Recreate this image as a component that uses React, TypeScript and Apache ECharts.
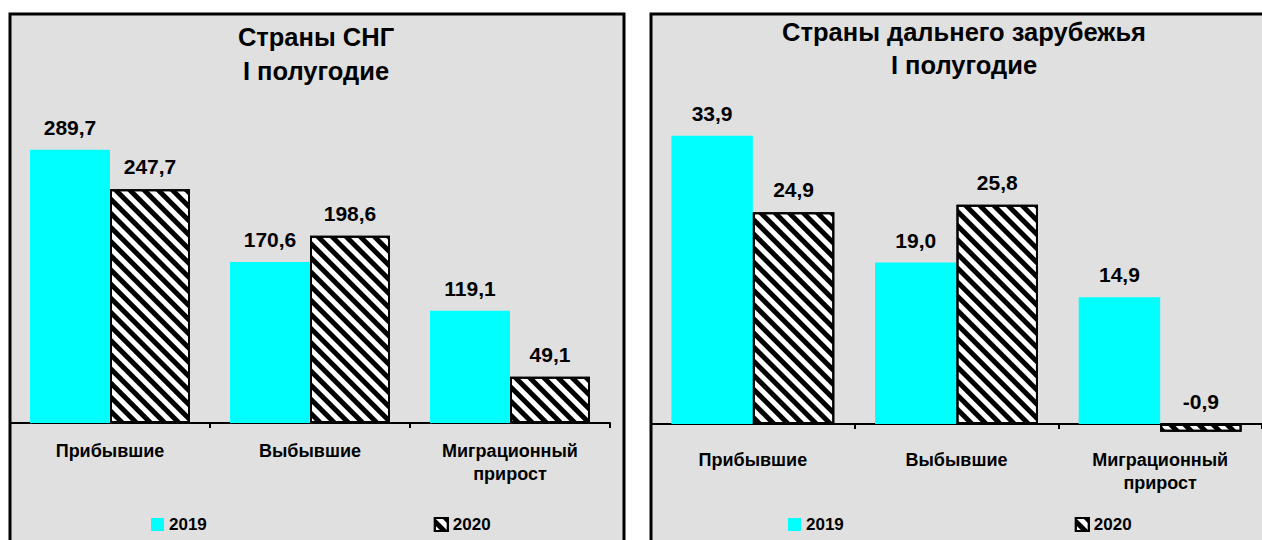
import React, { useEffect, useRef } from "react";
import * as echarts from "echarts";

const categories = ["Прибывшие", "Выбывшие", "Миграционный\nприрост"];
const cisTitle = "Страны СНГ\nI полугодие";
const farTitle = "Страны дальнего зарубежья\nI полугодие";
const cis2019 = [289.7, 170.6, 119.1];
const cis2020 = [247.7, 198.6, 49.1];
const far2019 = [33.9, 19.0, 14.9];
const far2020 = [24.9, 25.8, -0.9];
const seriesNames = ["2019", "2020"];

const FONT = "Arial, 'Liberation Sans', sans-serif";
const fmt = (p: any) => Number(p.value).toFixed(1).replace(".", ",");

const hatch = {
  symbol: "rect",
  symbolSize: 1,
  dashArrayX: [1, 0],
  dashArrayY: [5, 5],
  rotation: Math.PI / 4,
  color: "#000000",
  backgroundColor: "#ffffff",
};

const labelStyle = {
  show: true,
  position: "top",
  distance: 12,
  formatter: fmt,
  color: "#000",
  fontFamily: FONT,
  fontWeight: "bold",
  fontSize: 21,
};

function makeSeries(name: string, data: number[], idx: number, hatched: boolean) {
  return {
    name,
    type: "bar",
    xAxisIndex: idx,
    yAxisIndex: idx,
    data,
    barGap: "0%",
    barCategoryGap: "20%",
    itemStyle: hatched
      ? { color: "#ffffff", borderColor: "#000", borderWidth: 2, decal: hatch }
      : { color: "#00ffff" },
    label: labelStyle,
    z: 3,
  };
}

function xAxis(idx: number) {
  return {
    type: "category",
    gridIndex: idx,
    data: categories,
    axisLine: { onZero: true, lineStyle: { color: "#000", width: 2 } },
    axisTick: { show: true, length: 5, lineStyle: { color: "#000", width: 2 } },
    axisLabel: {
      color: "#000",
      fontFamily: FONT,
      fontWeight: "bold",
      fontSize: 18,
      lineHeight: 23,
      margin: 16,
      interval: 0,
    },
  };
}

function legend(left: number, gap: number) {
  return {
    data: seriesNames,
    left,
    top: 516,
    padding: 0,
    itemWidth: 13,
    itemHeight: 13,
    itemGap: gap,
    icon: "rect",
    selectedMode: false,
    textStyle: { color: "#000", fontFamily: FONT, fontWeight: "bold", fontSize: 17 },
  };
}

export default function App() {
  const ref = useRef<HTMLDivElement>(null);
  useEffect(() => {
    if (!ref.current) return;
    const chart = echarts.init(ref.current, null, { renderer: "svg" });
    chart.setOption({
      animation: false,
      backgroundColor: "#ffffff",
      graphic: [
        {
          type: "rect",
          z: -10,
          shape: { x: 10, y: 14, width: 614, height: 600 },
          style: { fill: "#e0e0e0", stroke: "#000", lineWidth: 3 },
        },
        {
          type: "rect",
          z: -10,
          shape: { x: 651, y: 14, width: 700, height: 600 },
          style: { fill: "#e0e0e0", stroke: "#000", lineWidth: 3 },
        },
      ],
      title: [
        {
          text: cisTitle,
          left: 316,
          top: 20,
          padding: 0,
          textAlign: "center",
          textStyle: { color: "#000", fontFamily: FONT, fontWeight: "bold", fontSize: 25.5, lineHeight: 34 },
        },
        {
          text: farTitle,
          left: 964,
          top: 15,
          padding: 0,
          textAlign: "center",
          textStyle: { color: "#000", fontFamily: FONT, fontWeight: "bold", fontSize: 25.5, lineHeight: 33 },
        },
      ],
      legend: [legend(151, 227), legend(788, 231)],
      grid: [
        { left: 10, top: 140, width: 600, height: 283 },
        { left: 651, top: 126.5, width: 612, height: 306 },
      ],
      xAxis: [xAxis(0), xAxis(1)],
      yAxis: [
        { type: "value", gridIndex: 0, min: 0, max: 300, show: false, splitLine: { show: false } },
        { type: "value", gridIndex: 1, min: -1, max: 35, show: false, splitLine: { show: false } },
      ],
      series: [
        makeSeries(seriesNames[0], cis2019, 0, false),
        makeSeries(seriesNames[1], cis2020, 0, true),
        makeSeries(seriesNames[0], far2019, 1, false),
        makeSeries(seriesNames[1], far2020, 1, true),
      ],
    });
    return () => chart.dispose();
  }, []);
  return (
    <div
      ref={ref}
      style={{ position: "absolute", left: 0, top: 0, width: 1262, height: 540 }}
    />
  );
}
